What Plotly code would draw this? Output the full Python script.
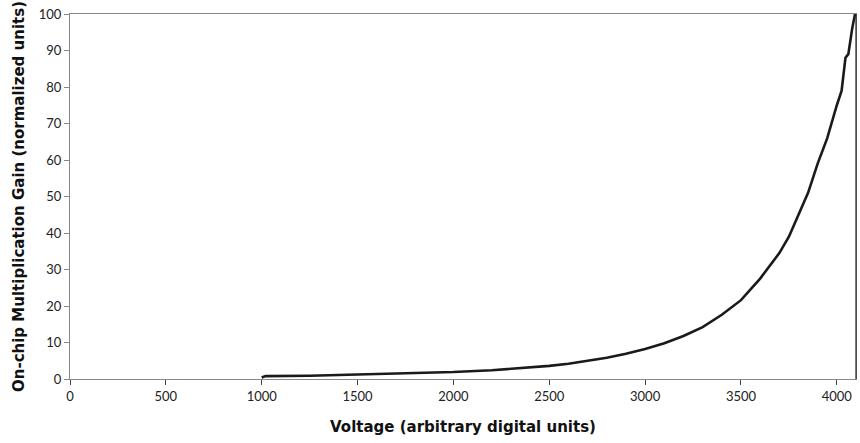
import plotly.graph_objects as go

voltage = [1000, 1020, 1250, 1400, 1650, 1800, 2000, 2200, 2400, 2500, 2600, 2700,
           2800, 2900, 3000, 3100, 3200, 3300, 3400, 3500, 3600, 3700, 3750, 3800,
           3850, 3900, 3950, 4000, 4025, 4045, 4060, 4080, 4095]
gain = [0.4, 0.8, 0.9, 1.1, 1.3, 1.5, 1.9, 2.4, 3.1, 3.6, 4.2, 5.0,
        5.8, 6.9, 8.2, 9.8, 11.8, 14.2, 17.6, 21.6, 27.5, 34.5, 39.0, 45.0,
        51.0, 59.0, 66.0, 75.0, 79.0, 88.0, 89.0, 96.0, 100.0]

x_ticks = [0, 500, 1000, 1500, 2000, 2500, 3000, 3500, 4000]
y_ticks = [0, 10, 20, 30, 40, 50, 60, 70, 80, 90, 100]

fig = go.Figure()
fig.add_trace(go.Scatter(x=voltage, y=gain, mode="lines",
                         line=dict(color="#1a1a1a", width=2.6), showlegend=False))

fig.update_layout(
    width=860, height=443,
    margin=dict(l=70, r=4, t=14, b=64),
    paper_bgcolor="white", plot_bgcolor="white",
    font=dict(family="Lato", color="#222222", size=13),
)
fig.update_xaxes(range=[0, 4100], tickvals=x_ticks, ticks="outside", ticklen=5,
                 tickcolor="#444444", showgrid=False, zeroline=False, automargin=False,
                 showline=True, linecolor="#888888", linewidth=1, mirror=True,
                 title=dict(text="<b>Voltage (arbitrary digital units)</b>",
                            font=dict(family="DejaVu Sans", size=15, color="#111111"),
                            standoff=18))
fig.update_yaxes(range=[0, 100], tickvals=y_ticks, ticks="outside", ticklen=5,
                 tickcolor="#888888", showgrid=False, zeroline=False, automargin=False,
                 showline=True, linecolor="#888888", linewidth=1, mirror=True,
                 title=dict(text="<b>On-chip Multiplication Gain (normalized units)</b>",
                            font=dict(family="DejaVu Sans", size=15, color="#111111"),
                            standoff=10))
fig.add_shape(type="line", xref="paper", yref="paper", x0=1, x1=1, y0=0, y1=1,
              line=dict(color="#222222", width=1.2))

fig.write_html("out.html", config={"displayModeBar": False},
               post_script="document.body.style.margin='0px';document.body.style.overflow='hidden';")
